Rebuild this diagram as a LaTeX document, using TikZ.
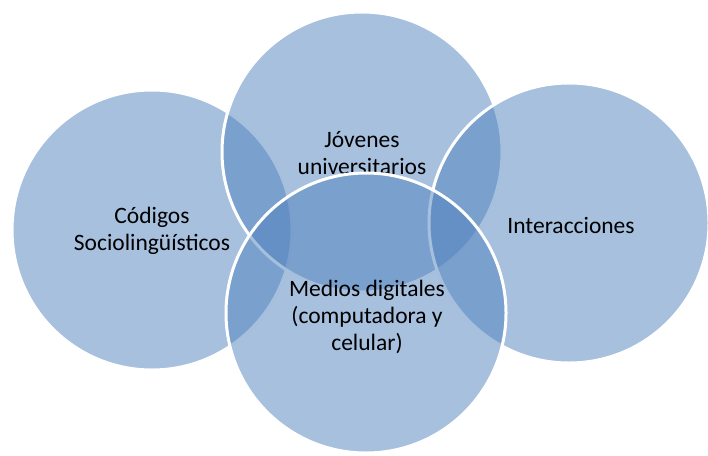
\documentclass[tikz,border=0pt]{standalone}
\usepackage{fontspec}
\setmainfont{Carlito}
\definecolor{accent}{RGB}{79,129,189}
\begin{document}
\begin{tikzpicture}[x=1pt,y=-1pt,
  venn/.style={circle, minimum size=280pt, inner sep=0pt, fill=accent, fill opacity=0.5, draw=white, draw opacity=1, line width=3pt},
  lbl/.style={font=\fontsize{23.5}{27}\selectfont, align=center, text=black, text opacity=1, inner sep=0pt}]
\useasboundingbox (0,0) rectangle (708,455);
\node[venn] (left) at (152,230) {};
\node[lbl] (tleft) at (152,231) {Códigos\\Sociolingüísticos};
\node[venn] (top) at (362,152) {};
\node[lbl] (ttop) at (362,153) {Jóvenes\\universitarios};
\node[venn] (right) at (569,223) {};
\node[lbl] (tright) at (571,225) {Interacciones};
\node[venn] (bottom) at (366,313) {};
\node[lbl] (tbottom) at (367,317) {Medios digitales\\(computadora y\\celular)};
\end{tikzpicture}
\end{document}
